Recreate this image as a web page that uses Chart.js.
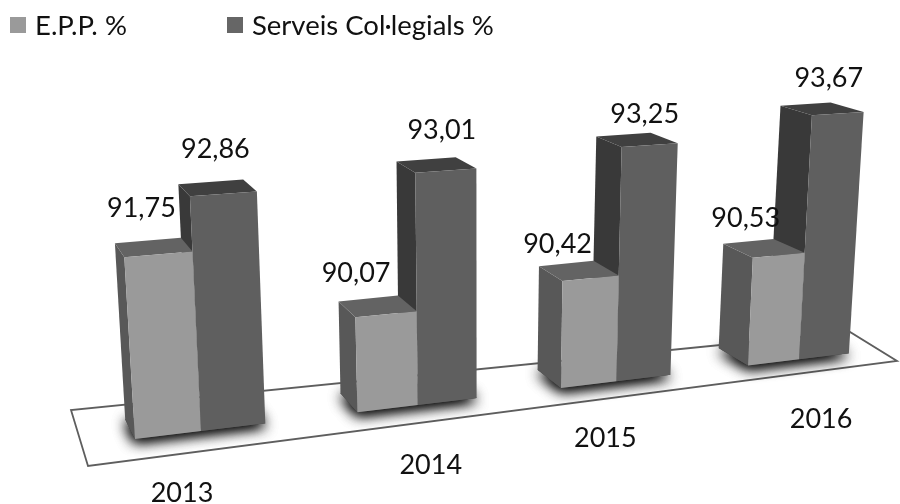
<!DOCTYPE html>
<html>
<head>
<meta charset="utf-8">
<script src="https://cdn.jsdelivr.net/npm/chart.js@4"></script>
<style>
  html, body { margin: 0; padding: 0; background: #fff; }
  canvas { display: block; filter: blur(0.5px); }
</style>
</head>
<body>
<canvas id="myChart" width="900" height="504"></canvas>
<script>
var years = ['2013', '2014', '2015', '2016'];
var seriesNames = ['E.P.P. %', 'Serveis Col·legials %'];
var eppValues = [91.75, 90.07, 90.42, 90.53];
var colValues = [92.86, 93.01, 93.25, 93.67];
var valueLabels = [['91,75', '90,07', '90,42', '90,53'], ['92,86', '93,01', '93,25', '93,67']];

// the tilted "3D" view: where the chart area corners land on screen (BL, BR, TR, TL)
var frontPlane = [[85, 445], [885, 349], [902, 95], [65, 146]];
var vanish = { x: -170, y: -182, k: 0.032 };
var floorPlate = [[71, 410], [88, 466], [897, 361], [850, 332]];
// label shifts per category, the original has them placed by hand
var valueShift = [[[-17, -46], [-30, -41], [-33, -34], [-33, -37]], [[-8, -45], [-4, -40], [-5, -31], [-9, -35]]];
var yearShift = [[-19, 62], [13, 60], [-11, 57], [22, 60]];
var legendPos = [{ box: 10, text: 35 }, { box: 227, text: 252 }];

var faces = [
  { front: '#9a9a9a', left: '#585858', top: '#636363' },
  { front: '#5f5f5f', left: '#393939', top: '#404040' }
];
var textColor = '#111111';
var labelFont = '27px Lato';

function makeProjector(q) {
  var dx1 = q[1][0] - q[2][0], dx2 = q[3][0] - q[2][0], sx = q[0][0] - q[1][0] + q[2][0] - q[3][0];
  var dy1 = q[1][1] - q[2][1], dy2 = q[3][1] - q[2][1], sy = q[0][1] - q[1][1] + q[2][1] - q[3][1];
  var den = dx1 * dy2 - dx2 * dy1;
  var g = (sx * dy2 - dx2 * sy) / den, h = (dx1 * sy - sx * dy1) / den;
  var a = q[1][0] - q[0][0] + g * q[1][0], b = q[3][0] - q[0][0] + h * q[3][0], c = q[0][0];
  var d = q[1][1] - q[0][1] + g * q[1][1], e = q[3][1] - q[0][1] + h * q[3][1], f = q[0][1];
  return function (u, v) {
    var w = g * u + h * v + 1;
    return [(a * u + b * v + c) / w, (d * u + e * v + f) / w];
  };
}

function back(p) {
  return [p[0] + vanish.k * (vanish.x - p[0]), p[1] + vanish.k * (vanish.y - p[1])];
}

function poly(ctx, pts, color) {
  ctx.beginPath();
  ctx.moveTo(pts[0][0], pts[0][1]);
  for (var i = 1; i < pts.length; i++) ctx.lineTo(pts[i][0], pts[i][1]);
  ctx.closePath();
  ctx.fillStyle = color;
  ctx.fill();
}

var view3d = {
  id: 'view3d',
  beforeDatasetsDraw: function (chart) {
    var ctx = chart.ctx, area = chart.chartArea;
    var square = makeProjector(frontPlane);
    var project = function (x, y) {
      return square((x - area.left) / area.width, (area.bottom - y) / area.height);
    };
    var metas = [chart.getDatasetMeta(0), chart.getDatasetMeta(1)];

    // floor
    ctx.save();
    ctx.lineWidth = 1.8;
    ctx.strokeStyle = '#5e5e5e';
    poly(ctx, floorPlate, '#fff');
    ctx.stroke();
    ctx.restore();

    // soft shadow round each pair of bars, two passes to get it dark enough
    years.forEach(function (y, i) {
      var a = metas[0].data[i], b = metas[1].data[i];
      var fl = project(a.x - a.width / 2, a.base), fr = project(b.x + b.width / 2, b.base);
      ctx.save();
      ctx.shadowColor = 'rgba(0,0,0,0.9)';
      ctx.shadowBlur = 14;
      ctx.shadowOffsetY = 3;
      poly(ctx, [fl, fr, back(fr), back(fl)], '#555');
      poly(ctx, [fl, fr, back(fr), back(fl)], '#555');
      ctx.restore();
    });

    // dark bar first, the light one sits in front of its left side
    years.forEach(function (y, i) {
      [1, 0].forEach(function (s) {
        var bar = metas[s].data[i], c = faces[s];
        var l = bar.x - bar.width / 2, r = bar.x + bar.width / 2;
        var bl = project(l, bar.base), br = project(r, bar.base);
        var tl = project(l, bar.y), tr = project(r, bar.y);
        poly(ctx, [bl, tl, back(tl), back(bl)], c.left);
        poly(ctx, [tl, tr, back(tr), back(tl)], c.top);
        poly(ctx, [bl, br, tr, tl], c.front);
      });
    });

    // texts
    ctx.fillStyle = textColor;
    ctx.font = labelFont;
    ctx.textAlign = 'center';
    ctx.textBaseline = 'middle';
    years.forEach(function (y, i) {
      [0, 1].forEach(function (s) {
        var bar = metas[s].data[i];
        var l = project(bar.x - bar.width / 2, bar.y), r = project(bar.x + bar.width / 2, bar.y);
        ctx.fillText(valueLabels[s][i], (l[0] + r[0]) / 2 + valueShift[s][i][0], (l[1] + r[1]) / 2 + valueShift[s][i][1]);
      });
      var a = metas[0].data[i];
      var mid = project(a.x + a.width / 2, a.base);
      ctx.fillText(y, mid[0] + yearShift[i][0], mid[1] + yearShift[i][1]);
    });

    // legend
    ctx.textAlign = 'left';
    ctx.font = '27.5px Lato';
    seriesNames.forEach(function (name, s) {
      ctx.fillStyle = s === 0 ? '#9a9a9a' : '#666666';
      ctx.fillRect(legendPos[s].box, 17, 16, 16);
      ctx.fillStyle = textColor;
      ctx.fillText(name, legendPos[s].text, 26);
    });
    return false;
  }
};

new Chart(document.getElementById('myChart'), {
  type: 'bar',
  data: {
    labels: years,
    datasets: [
      { label: seriesNames[0], data: eppValues, base: 88, backgroundColor: faces[0].front },
      { label: seriesNames[1], data: colValues, base: 88, backgroundColor: faces[1].front }
    ]
  },
  options: {
    responsive: false,
    animation: false,
    plugins: { legend: { display: false }, tooltip: { enabled: false } },
    datasets: { bar: { categoryPercentage: 0.575, barPercentage: 1 } },
    scales: {
      x: { display: false },
      y: { display: false, min: 88, max: 94 }
    }
  },
  plugins: [view3d]
});
</script>
</body>
</html>
